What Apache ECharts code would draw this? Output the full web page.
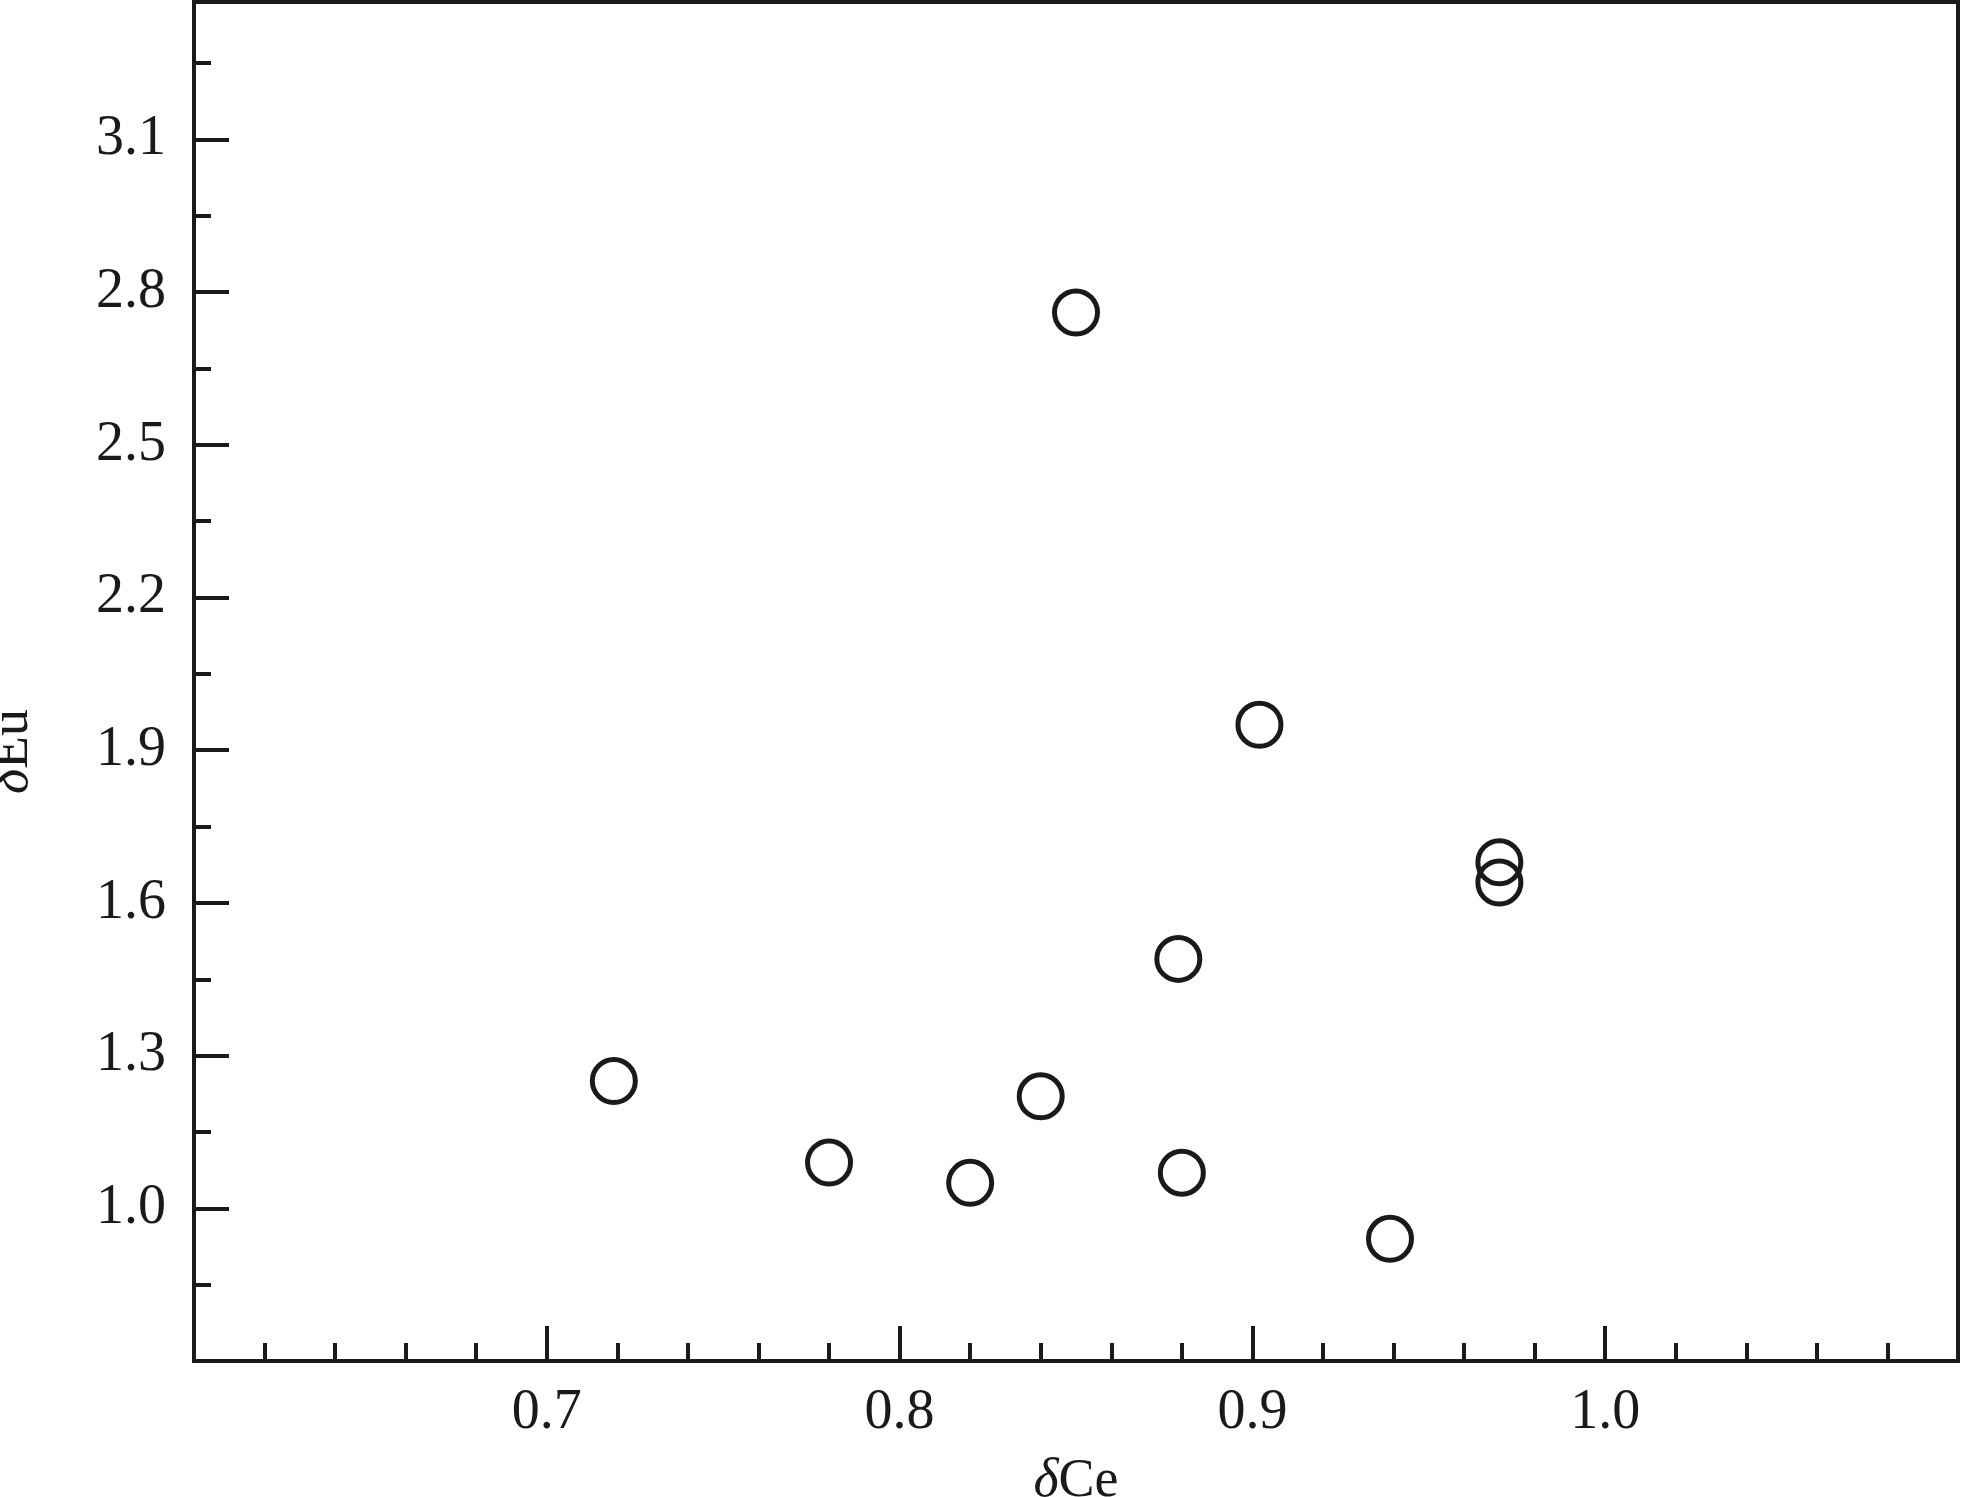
<!DOCTYPE html>
<html>
<head>
<meta charset="utf-8">
<script src="https://cdn.jsdelivr.net/npm/echarts@6/dist/echarts.min.js"></script>
<style>html,body{margin:0;padding:0;background:#fff}#c{width:1963px;height:1497px}</style>
</head>
<body>
<div id="c"></div>
<script>
// δCe values
const deltaCe = [0.719, 0.78, 0.82, 0.84, 0.85, 0.879, 0.88, 0.902, 0.939, 0.97, 0.97];
// δEu values
const deltaEu = [1.25, 1.09, 1.05, 1.22, 2.76, 1.49, 1.07, 1.95, 0.94, 1.68, 1.64];
const xTickLabels = ['0.7', '0.8', '0.9', '1.0'];
const yTickLabels = ['1.0', '1.3', '1.6', '1.9', '2.2', '2.5', '2.8', '3.1'];

const ink = '#1a1a1a';
const font = 'Liberation Serif';
const points = deltaCe.map((x, i) => [x, deltaEu[i]]);

const chart = echarts.init(document.getElementById('c'));
chart.setOption({
  backgroundColor: '#fff',
  animation: false,
  grid: { left: 194, right: 5, top: 2, bottom: 136, show: true, borderColor: ink, borderWidth: 4, backgroundColor: 'transparent', containLabel: false, outerBoundsMode: 'none' },
  xAxis: {
    type: 'value', min: 0.6, max: 1.1, interval: 0.1,
    name: '{i|δ}Ce', nameLocation: 'middle', nameGap: 94,
    nameTextStyle: { fontFamily: font, fontSize: 54, color: ink, rich: { i: { fontFamily: font, fontSize: 54, fontStyle: 'italic', color: ink } } },
    axisLine: { show: true, lineStyle: { color: ink, width: 4 } },
    axisTick: { show: true, inside: true, length: 35, lineStyle: { color: ink, width: 4 } },
    minorTick: { show: true, splitNumber: 5, length: 18, lineStyle: { color: ink, width: 4 } },
    splitLine: { show: false }, minorSplitLine: { show: false },
    axisLabel: {
      margin: 24, fontFamily: font, fontSize: 56, color: ink,
      formatter: v => { const s = v.toFixed(1); return xTickLabels.includes(s) ? s : ''; }
    }
  },
  yAxis: {
    type: 'value', min: 0.7, max: 3.37, interval: 0.3,
    name: '{i|δ}Eu', nameLocation: 'middle', nameGap: 154, nameRotate: 90,
    nameTextStyle: { fontFamily: font, fontSize: 54, color: ink, padding: [0, 140, 0, 0], rich: { i: { fontFamily: font, fontSize: 54, fontStyle: 'italic', color: ink } } },
    axisLine: { show: true, lineStyle: { color: ink, width: 4 } },
    axisTick: { show: true, inside: true, length: 35, lineStyle: { color: ink, width: 4 } },
    minorTick: { show: true, splitNumber: 2, length: 17, lineStyle: { color: ink, width: 4 } },
    splitLine: { show: false }, minorSplitLine: { show: false },
    axisLabel: {
      margin: 28, fontFamily: font, fontSize: 56, color: ink,
      formatter: v => { const s = v.toFixed(1); return yTickLabels.includes(s) ? s : ''; }
    }
  },
  series: [{
    type: 'scatter', data: points, symbol: 'circle', symbolSize: 43,
    itemStyle: { color: 'rgba(0,0,0,0)', borderColor: ink, borderWidth: 5, opacity: 1 }
  }]
});
</script>
</body>
</html>
